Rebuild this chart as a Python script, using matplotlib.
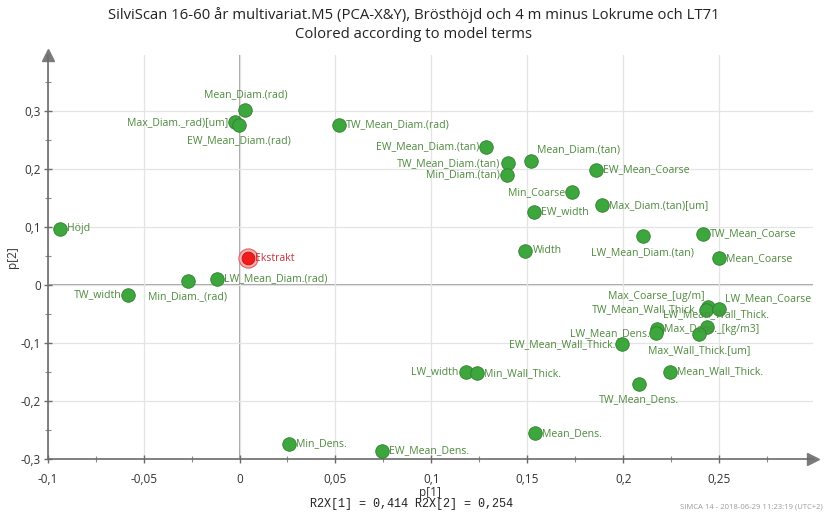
import matplotlib
matplotlib.use("Agg")
import matplotlib.pyplot as plt
from matplotlib.ticker import MultipleLocator, FuncFormatter

# Loadings p[1] / p[2] for each model term
terms = [
    "Mean_Diam.(rad)", "Max_Diam._rad)[um]", "EW_Mean_Diam.(rad)", "TW_Mean_Diam.(rad)",
    "Höjd", "Ekstrakt", "LW_Mean_Diam.(rad)", "Min_Diam._(rad)", "TW_width",
    "EW_Mean_Diam.(tan)", "TW_Mean_Diam.(tan)", "Min_Diam.(tan)", "Mean_Diam.(tan)",
    "EW_Mean_Coarse", "Min_Coarse", "EW_width", "Max_Diam.(tan)[um]",
    "LW_Mean_Diam.(tan)", "TW_Mean_Coarse", "Width", "Mean_Coarse",
    "Max_Coarse_[ug/m]", "TW_Mean_Wall_Thick.", "LW_Mean_Coarse", "LW_Mean_Wall_Thick.",
    "Max_Wall_Thick.[um]", "Max_Dens._[kg/m3]", "LW_Mean_Dens.", "EW_Mean_Wall_Thick.",
    "LW_width", "Min_Wall_Thick.", "Mean_Wall_Thick.", "TW_Mean_Dens.",
    "Mean_Dens.", "Min_Dens.", "EW_Mean_Dens.",
]
p1 = [
    0.0030, -0.0023, -0.0005, 0.0520,
    -0.0938, 0.0045, -0.0115, -0.0270, -0.0580,
    0.1286, 0.1397, 0.1392, 0.1522,
    0.1856, 0.1732, 0.1533, 0.1889,
    0.2102, 0.2415, 0.1490, 0.2498,
    0.2443, 0.2430, 0.2498, 0.2437,
    0.2394, 0.2177, 0.2173, 0.1995,
    0.1179, 0.1240, 0.2243, 0.2083,
    0.1542, 0.0258, 0.0741,
]
p2 = [
    0.302, 0.281, 0.277, 0.277,
    0.097, 0.046, 0.0114, 0.0074, -0.017,
    0.239, 0.210, 0.190, 0.214,
    0.199, 0.160, 0.127, 0.138,
    0.084, 0.089, 0.059, 0.046,
    -0.037, -0.0425, -0.0415, -0.073,
    -0.085, -0.076, -0.083, -0.102,
    -0.1495, -0.152, -0.1495, -0.170,
    -0.2555, -0.2734, -0.286,
]
y_terms = ["Ekstrakt"]

title_lines = ["SilviScan 16-60 år multivariat.M5 (PCA-X&Y), Brösthöjd och 4 m minus Lokrume och LT71",
               "Colored according to model terms"]
r2x = [0.414, 0.254]
footer = "SIMCA 14 - 2018-06-29 11:23:19 (UTC+2)"

# label placement around each marker (pixel offsets)
place = {
    "Mean_Diam.(rad)": "a", "Max_Diam._rad)[um]": "l", "EW_Mean_Diam.(rad)": "b",
    "Min_Diam._(rad)": "b", "TW_width": "l", "EW_Mean_Diam.(tan)": "l",
    "TW_Mean_Diam.(tan)": "l", "Min_Diam.(tan)": "l", "Mean_Diam.(tan)": "ar",
    "Min_Coarse": "l", "LW_Mean_Diam.(tan)": "b", "Max_Coarse_[ug/m]": "al",
    "TW_Mean_Wall_Thick.": "l", "LW_Mean_Coarse": "ar", "LW_Mean_Wall_Thick.": "a2",
    "Max_Wall_Thick.[um]": "b", "LW_Mean_Dens.": "l", "EW_Mean_Wall_Thick.": "l",
    "LW_width": "l", "TW_Mean_Dens.": "b",
}
offsets = {
    "r": (7, 0, "left"), "l": (-7, 0, "right"), "a": (0, 15, "center"),
    "b": (0, -16, "center"), "ar": (6, 11, "left"), "al": (-4, 10, "right"),
    "a2": (9, 13, "center"),
}

FONT = "Open Sans"
GREEN = "#3da63d"
GREEN_EDGE = "#2f7f2f"
GREEN_TXT = "#4e8a3e"
RED = "#ee1c1c"
RED_TXT = "#c8323a"

fig = plt.figure(figsize=(8.28, 5.18), dpi=100)
ax = fig.add_axes([0.0576, 0.1139, 0.9244, 0.7799])
xmin, xmax = -0.1, 0.299
ymin, ymax = -0.3, 0.397
ax.set_xlim(xmin, xmax)
ax.set_ylim(ymin, ymax)

for s in ["top", "right"]:
    ax.spines[s].set_visible(False)
for s in ["left", "bottom"]:
    ax.spines[s].set_color("#6b6b6b")
    ax.spines[s].set_linewidth(1.2)

ax.xaxis.set_major_locator(MultipleLocator(0.05))
ax.xaxis.set_minor_locator(MultipleLocator(0.025))
ax.yaxis.set_major_locator(MultipleLocator(0.1))
ax.yaxis.set_minor_locator(MultipleLocator(0.05))

def comma(v, pos):
    s = f"{v:.2f}".rstrip("0").rstrip(".")
    if s in ("-0", "0"):
        s = "0"
    return s.replace(".", ",")

ax.xaxis.set_major_formatter(FuncFormatter(comma))
ax.yaxis.set_major_formatter(FuncFormatter(comma))
ax.tick_params(axis="both", which="major", direction="inout", length=6, width=1,
               color="#6b6b6b", labelsize=8.5, labelcolor="#333333")
ax.tick_params(axis="both", which="minor", direction="inout", length=4, width=0.8,
               color="#8a8a8a")
ax.tick_params(axis="x", pad=7)
ax.tick_params(axis="y", pad=2)
for lab in ax.get_xticklabels() + ax.get_yticklabels():
    lab.set_fontfamily(FONT)

# light grid plus darker zero lines
ax.grid(True, which="major", color="#e4e4e4", linewidth=0.9, zorder=0)
ax.axvline(0, color="#8c8c8c", linewidth=1.1, zorder=1)
ax.axhline(0, color="#8c8c8c", linewidth=1.1, zorder=1)

# axis arrows
ax.plot([1], [0], marker=">", markersize=8, color="#7a7a7a",
        transform=ax.transAxes, clip_on=False)
ax.plot([0], [1], marker="^", markersize=8, color="#7a7a7a",
        transform=ax.transAxes, clip_on=False)

for name, x, y in zip(terms, p1, p2):
    if name in y_terms:
        ax.scatter([x], [y], s=190, facecolor="#f6b0b0", edgecolor="#e06060",
                   linewidth=0.8, zorder=3)
        ax.scatter([x], [y], s=85, facecolor=RED, edgecolor="#c81010",
                   linewidth=0.6, zorder=4)
        tc = RED_TXT
    else:
        ax.scatter([x], [y], s=95, facecolor=GREEN, edgecolor=GREEN_EDGE,
                   linewidth=0.6, zorder=3)
        tc = GREEN_TXT
    dx, dy, ha = offsets[place.get(name, "r")]
    ax.annotate(name, (x, y), xytext=(dx, dy), textcoords="offset pixels",
                ha=ha, va="center", fontsize=7.6, color=tc, family=FONT, zorder=5)

ax.set_xlabel("p[1]", fontsize=8.5, family=FONT, color="#333333", labelpad=0)
ax.set_ylabel("p[2]", fontsize=8.5, family=FONT, color="#333333", labelpad=1)

fig.text(0.5, 1 - 15 / 518, title_lines[0], ha="center", va="center",
         fontsize=10.7, family=FONT, color="#222222")
fig.text(0.5, 1 - 35 / 518, title_lines[1], ha="center", va="center",
         fontsize=10.7, family=FONT, color="#222222")

r2_text = f"R2X[1] = {r2x[0]:.3f} R2X[2] = {r2x[1]:.3f}".replace(".", ",")
fig.text(412 / 828, 1 - 504 / 518, r2_text, ha="center", va="center",
         fontsize=8.5, family="Liberation Mono", color="#222222")
fig.text(823 / 828, 1 - 507 / 518, footer, ha="right", va="center",
         fontsize=5.5, family=FONT, color="#9a9a9a")

fig.savefig("out.png", dpi=100)
